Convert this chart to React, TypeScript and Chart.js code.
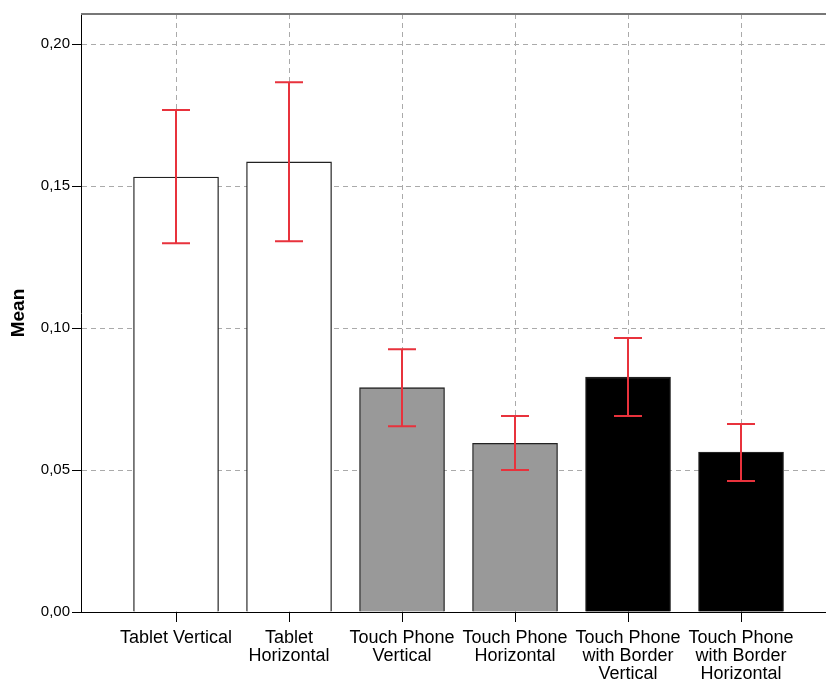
import React, { useEffect, useRef } from "react";
import { Chart, registerables } from "chart.js";

Chart.register(...registerables);

const categories: string[][] = [
  ["Tablet Vertical"],
  ["Tablet", "Horizontal"],
  ["Touch Phone", "Vertical"],
  ["Touch Phone", "Horizontal"],
  ["Touch Phone", "with Border", "Vertical"],
  ["Touch Phone", "with Border", "Horizontal"],
];
const means: number[] = [0.1532, 0.1585, 0.079, 0.0594, 0.0827, 0.0563];
const errHigh: number[] = [0.1768, 0.1866, 0.0925, 0.069, 0.0965, 0.0662];
const errLow: number[] = [0.1299, 0.1306, 0.0654, 0.05, 0.069, 0.0461];
const barColors: string[] = ["#ffffff", "#ffffff", "#999999", "#999999", "#000000", "#000000"];
const yTicks: number[] = [0, 0.05, 0.1, 0.15, 0.2];

const FONT = "'Liberation Sans', Arial, sans-serif";

const decor = {
  id: "decor",
  afterDatasetsDraw(chart: any) {
    const { ctx, chartArea, scales } = chart;
    const xs = scales.x;
    const ys = scales.y;
    ctx.save();
    ctx.strokeStyle = "#e8323c";
    ctx.lineWidth = 2;
    for (let i = 0; i < means.length; i++) {
      const x = Math.round(xs.getPixelForValue(i));
      const yt = ys.getPixelForValue(errHigh[i]);
      const yb = ys.getPixelForValue(errLow[i]);
      ctx.beginPath();
      ctx.moveTo(x, yt);
      ctx.lineTo(x, yb);
      ctx.moveTo(x - 14, yt);
      ctx.lineTo(x + 14, yt);
      ctx.moveTo(x - 14, yb);
      ctx.lineTo(x + 14, yb);
      ctx.stroke();
    }
    ctx.restore();
    ctx.save();
    ctx.strokeStyle = "#777777";
    ctx.lineWidth = 2;
    ctx.beginPath();
    ctx.moveTo(chartArea.left, chartArea.top);
    ctx.lineTo(chartArea.right, chartArea.top);
    ctx.stroke();
    ctx.restore();
  },
};

export default function App() {
  const ref = useRef<HTMLCanvasElement | null>(null);
  useEffect(() => {
    if (!ref.current) return;
    const chart = new Chart(ref.current, {
      type: "bar",
      data: {
        datasets: [
          {
            data: means.map((v, i) => ({ x: i, y: v })),
            backgroundColor: barColors,
            borderColor: "#222222",
            borderWidth: 1.3,
            barThickness: 85,
          } as any,
        ],
      },
      options: {
        responsive: false,
        animation: false,
        layout: { padding: { top: 14, left: 0, right: 0, bottom: 0 } },
        plugins: { legend: { display: false }, tooltip: { enabled: false } },
        scales: {
          x: {
            type: "linear",
            offset: false,
            min: -0.841,
            max: 5.752,
            afterBuildTicks: (s: any) => {
              s.ticks = categories.map((_, i) => ({ value: i }));
            },
            afterFit: (s: any) => {
              s.height = 68;
            },
            ticks: {
              autoSkip: false,
              maxRotation: 0,
              padding: 7,
              color: "#000",
              font: { family: FONT, size: 18, lineHeight: 1.0 },
              callback: (v: any) => categories[Number(v)] ?? "",
            },
            grid: {
              offset: false,
              color: "#aaaaaa",
              lineWidth: 1,
              tickColor: "#000",
              tickLength: 10,
              tickBorderDash: [],
            } as any,
            border: { display: true, color: "#000", width: 1, dash: [5, 4] } as any,
          },
          y: {
            min: 0,
            max: 0.2106,
            afterBuildTicks: (s: any) => {
              s.ticks = yTicks.map((v) => ({ value: v }));
            },
            afterFit: (s: any) => {
              s.width = 81;
            },
            title: {
              display: true,
              text: "Mean",
              color: "#000",
              font: { family: FONT, size: 19, weight: "bold" },
              padding: { top: 7, bottom: 0 },
            },
            ticks: {
              padding: 2,
              color: "#000",
              font: { family: FONT, size: 15 },
              callback: (v: any) => Number(v).toFixed(2).replace(".", ","),
            },
            grid: {
              color: "#aaaaaa",
              lineWidth: 1,
              tickColor: "#000",
              tickLength: 9,
              tickBorderDash: [],
            } as any,
            border: { display: true, color: "#000", width: 1, dash: [5, 4] } as any,
          },
        },
      } as any,
      plugins: [decor],
    });
    return () => chart.destroy();
  }, []);
  return (
    <canvas
      ref={ref}
      width={826}
      height={680}
      style={{ position: "absolute", left: 0, top: 0, width: 826, height: 680, background: "#fff" }}
    />
  );
}
